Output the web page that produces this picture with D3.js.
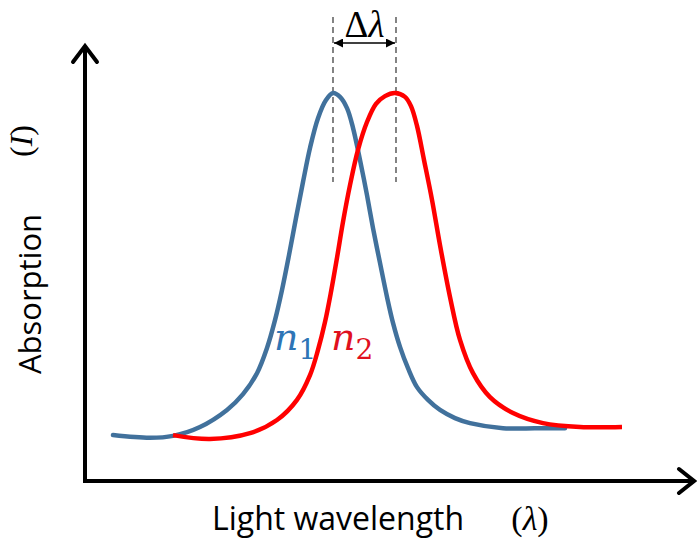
<!DOCTYPE html>
<html>
<head>
<meta charset="utf-8">
<script src="https://cdn.jsdelivr.net/npm/d3@7"></script>
<style>
  html, body { margin: 0; padding: 0; background: #fff; }
  svg { display: block; }
</style>
</head>
<body>
<svg id="chart" width="697" height="542"></svg>
<script>
// Absorption spectra of two media (n1, n2): relative wavelength vs. absorption (%)
const wavelengthN1 = [28, 65, 88, 115, 142, 158, 172, 182, 190, 197, 204, 211, 218, 225, 233, 241, 248,
  255, 262, 268, 275, 282, 288, 295, 302, 308, 315, 323, 332, 343, 355, 370, 385, 418, 462, 480];
const absorptionN1 = [11.6, 10.9, 11.4, 13.7, 18.1, 22.2, 27.6, 34.1, 41.3, 49.1, 58.1, 67.7, 77.0, 85.8, 93.5, 98.2, 100,
  99.0, 96.1, 91.0, 82.7, 73.6, 65.1, 56.1, 47.3, 40.6, 34.4, 28.9, 24.0, 20.7, 18.1, 16.0, 14.7, 13.4, 13.4, 13.4];

const wavelengthN2 = [88, 125, 165, 192, 212, 225, 233, 240, 246, 252, 258, 265, 273, 282, 291, 300, 310,
  320, 326, 332, 339, 347, 355, 365, 375, 388, 405, 428, 458, 495, 537];
const absorptionN2 = [11.6, 10.6, 12.1, 15.5, 20.7, 27.1, 33.6, 40.8, 48.6, 57.4, 66.7, 76.2, 85.3, 92.5, 97.2, 99.2, 100,
  99.0, 96.6, 91.5, 82.7, 72.4, 60.7, 47.3, 36.2, 27.6, 21.4, 17.3, 14.7, 13.7, 13.7];

const peakN1 = 248;
const peakN2 = 311;

const svg = d3.select("#chart");

const x = d3.scaleLinear().domain([0, 600]).range([85, 685]);
const y = d3.scaleLinear().domain([0, 100]).range([480, 93]);

const seriesN1 = wavelengthN1.map((w, i) => ({ w, a: absorptionN1[i] }));
const seriesN2 = wavelengthN2.map((w, i) => ({ w, a: absorptionN2[i] }));

const line = d3.line()
  .x(d => x(d.w))
  .y(d => y(d.a))
  .curve(d3.curveCatmullRom.alpha(0.5));

// axes with open arrowheads
const axes = svg.append("g")
  .attr("fill", "none")
  .attr("stroke", "#000")
  .attr("stroke-width", 4)
  .attr("stroke-linecap", "butt")
  .attr("stroke-linejoin", "miter");

axes.append("path").attr("d", "M85,482 L85,46");
axes.append("path").attr("d", "M83,481 L693,481");
axes.append("path")
  .attr("stroke-linecap", "round")
  .attr("d", "M73,62 L85,46 L97,62");
axes.append("path")
  .attr("stroke-linecap", "round")
  .attr("d", "M679,469 L694,481 L679,493");

// peak markers
const dashG = svg.append("g")
  .attr("stroke", "#333")
  .attr("stroke-width", 1.2)
  .attr("stroke-dasharray", "6,4");
[peakN1, peakN2].forEach(p => {
  dashG.append("line")
    .attr("x1", x(p)).attr("x2", x(p))
    .attr("y1", 17).attr("y2", 182);
});

// curves
svg.append("path")
  .datum(seriesN1)
  .attr("fill", "none")
  .attr("stroke", "#41719c")
  .attr("stroke-width", 4.5)
  .attr("stroke-linecap", "round")
  .attr("d", line);

svg.append("path")
  .datum(seriesN2)
  .attr("fill", "none")
  .attr("stroke", "#ff0000")
  .attr("stroke-width", 4.5)
  .attr("stroke-linecap", "butt")
  .attr("d", line);

// double arrow for peak shift
const defs = svg.append("defs");
defs.append("marker")
  .attr("id", "ah")
  .attr("viewBox", "0 0 10 10")
  .attr("refX", 10).attr("refY", 5)
  .attr("markerWidth", 9).attr("markerHeight", 9)
  .attr("markerUnits", "userSpaceOnUse")
  .attr("orient", "auto-start-reverse")
  .append("path")
  .attr("d", "M0,0 L10,5 L0,10 Z")
  .attr("fill", "#000");

svg.append("line")
  .attr("x1", x(peakN1) + 1).attr("x2", x(peakN2) - 1)
  .attr("y1", 43).attr("y2", 43)
  .attr("stroke", "#000")
  .attr("stroke-width", 1.6)
  .attr("marker-start", "url(#ah)")
  .attr("marker-end", "url(#ah)");

const dl = svg.append("text")
  .attr("x", (x(peakN1) + x(peakN2)) / 2)
  .attr("y", 37)
  .attr("text-anchor", "middle")
  .attr("font-family", "'Liberation Serif', serif")
  .attr("font-size", 37)
  .attr("fill", "#000");
dl.append("tspan").text("Δ");
dl.append("tspan").attr("font-style", "italic").text("λ");

// series labels
function seriesLabel(xPos, color, idx) {
  const t = svg.append("text")
    .attr("x", xPos)
    .attr("y", 350)
    .attr("font-family", "'DejaVu Serif', serif")
    .attr("fill", color);
  t.append("tspan").attr("font-style", "italic").attr("font-size", 38).text("n");
  t.append("tspan").attr("font-size", 28).attr("dy", 9).text(idx);
}
seriesLabel(274, "#2e75b6", "1");
seriesLabel(331, "#e0101e", "2");

// axis titles
svg.append("text")
  .attr("transform", "translate(41,294) rotate(-90)")
  .attr("text-anchor", "middle")
  .attr("font-family", "'Open Sans', sans-serif")
  .attr("font-size", 31)
  .attr("fill", "#000")
  .text("Absorption");

svg.append("text")
  .attr("transform", "translate(32,141) rotate(-90)")
  .attr("text-anchor", "middle")
  .attr("font-family", "'Liberation Serif', serif")
  .attr("font-size", 32)
  .attr("fill", "#000")
  .html("(<tspan font-style='italic'>I</tspan>)");

svg.append("text")
  .attr("x", 212)
  .attr("y", 530)
  .attr("font-family", "'Open Sans', sans-serif")
  .attr("font-size", 32)
  .attr("fill", "#000")
  .text("Light wavelength");

svg.append("text")
  .attr("x", 530)
  .attr("y", 530)
  .attr("text-anchor", "middle")
  .attr("font-family", "'Liberation Serif', serif")
  .attr("font-size", 34)
  .attr("fill", "#000")
  .html("(<tspan font-style='italic'>λ</tspan>)");
</script>
</body>
</html>
